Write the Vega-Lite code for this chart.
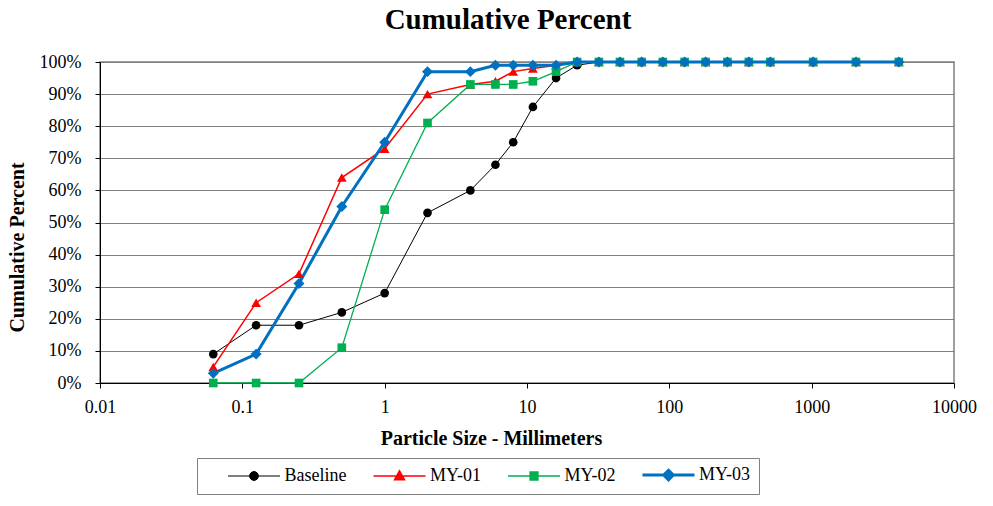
{
  "$schema": "https://vega.github.io/schema/vega-lite/v6.json",
  "width": 854,
  "height": 321,
  "autosize": {"type": "none"},
  "padding": {"left": 100, "top": 62, "right": 39, "bottom": 123},
  "background": "white",
  "config": {
    "font": "Liberation Serif",
    "view": {"stroke": "#808080", "strokeWidth": 1.5},
    "axis": {"labelFont": "Liberation Serif", "titleFont": "Liberation Serif", "labelColor": "#000000", "titleColor": "#000000"},
    "legend": {"symbolOpacity": 1}
  },
  "title": {
    "text": "Cumulative Percent",
    "font": "Liberation Serif",
    "fontSize": 29,
    "fontWeight": "bold",
    "color": "#000000",
    "anchor": "middle",
    "frame": "group",
    "dx": -19,
    "baseline": "alphabetic",
    "offset": -5
  },
  "data": {
    "values": [
      {"series": "Baseline", "size": 0.0625, "pct": 9},
      {"series": "Baseline", "size": 0.125, "pct": 18},
      {"series": "Baseline", "size": 0.25, "pct": 18},
      {"series": "Baseline", "size": 0.5, "pct": 22},
      {"series": "Baseline", "size": 1, "pct": 28},
      {"series": "Baseline", "size": 2, "pct": 53},
      {"series": "Baseline", "size": 4, "pct": 60},
      {"series": "Baseline", "size": 6, "pct": 68},
      {"series": "Baseline", "size": 8, "pct": 75},
      {"series": "Baseline", "size": 11, "pct": 86},
      {"series": "Baseline", "size": 16, "pct": 95},
      {"series": "Baseline", "size": 22.5, "pct": 99},
      {"series": "Baseline", "size": 32, "pct": 100},
      {"series": "Baseline", "size": 45, "pct": 100},
      {"series": "Baseline", "size": 64, "pct": 100},
      {"series": "Baseline", "size": 90, "pct": 100},
      {"series": "Baseline", "size": 128, "pct": 100},
      {"series": "Baseline", "size": 180, "pct": 100},
      {"series": "Baseline", "size": 256, "pct": 100},
      {"series": "Baseline", "size": 362, "pct": 100},
      {"series": "Baseline", "size": 512, "pct": 100},
      {"series": "Baseline", "size": 1024, "pct": 100},
      {"series": "Baseline", "size": 2048, "pct": 100},
      {"series": "Baseline", "size": 4096, "pct": 100},
      {"series": "MY-01", "size": 0.0625, "pct": 5},
      {"series": "MY-01", "size": 0.125, "pct": 25},
      {"series": "MY-01", "size": 0.25, "pct": 34},
      {"series": "MY-01", "size": 0.5, "pct": 64},
      {"series": "MY-01", "size": 1, "pct": 73},
      {"series": "MY-01", "size": 2, "pct": 90},
      {"series": "MY-01", "size": 4, "pct": 93},
      {"series": "MY-01", "size": 6, "pct": 94},
      {"series": "MY-01", "size": 8, "pct": 97},
      {"series": "MY-01", "size": 11, "pct": 98},
      {"series": "MY-01", "size": 16, "pct": 99},
      {"series": "MY-01", "size": 22.5, "pct": 100},
      {"series": "MY-01", "size": 32, "pct": 100},
      {"series": "MY-01", "size": 45, "pct": 100},
      {"series": "MY-01", "size": 64, "pct": 100},
      {"series": "MY-01", "size": 90, "pct": 100},
      {"series": "MY-01", "size": 128, "pct": 100},
      {"series": "MY-01", "size": 180, "pct": 100},
      {"series": "MY-01", "size": 256, "pct": 100},
      {"series": "MY-01", "size": 362, "pct": 100},
      {"series": "MY-01", "size": 512, "pct": 100},
      {"series": "MY-01", "size": 1024, "pct": 100},
      {"series": "MY-01", "size": 2048, "pct": 100},
      {"series": "MY-01", "size": 4096, "pct": 100},
      {"series": "MY-02", "size": 0.0625, "pct": 0},
      {"series": "MY-02", "size": 0.125, "pct": 0},
      {"series": "MY-02", "size": 0.25, "pct": 0},
      {"series": "MY-02", "size": 0.5, "pct": 11},
      {"series": "MY-02", "size": 1, "pct": 54},
      {"series": "MY-02", "size": 2, "pct": 81},
      {"series": "MY-02", "size": 4, "pct": 93},
      {"series": "MY-02", "size": 6, "pct": 93},
      {"series": "MY-02", "size": 8, "pct": 93},
      {"series": "MY-02", "size": 11, "pct": 94},
      {"series": "MY-02", "size": 16, "pct": 97},
      {"series": "MY-02", "size": 22.5, "pct": 100},
      {"series": "MY-02", "size": 32, "pct": 100},
      {"series": "MY-02", "size": 45, "pct": 100},
      {"series": "MY-02", "size": 64, "pct": 100},
      {"series": "MY-02", "size": 90, "pct": 100},
      {"series": "MY-02", "size": 128, "pct": 100},
      {"series": "MY-02", "size": 180, "pct": 100},
      {"series": "MY-02", "size": 256, "pct": 100},
      {"series": "MY-02", "size": 362, "pct": 100},
      {"series": "MY-02", "size": 512, "pct": 100},
      {"series": "MY-02", "size": 1024, "pct": 100},
      {"series": "MY-02", "size": 2048, "pct": 100},
      {"series": "MY-02", "size": 4096, "pct": 100},
      {"series": "MY-03", "size": 0.0625, "pct": 3},
      {"series": "MY-03", "size": 0.125, "pct": 9},
      {"series": "MY-03", "size": 0.25, "pct": 31},
      {"series": "MY-03", "size": 0.5, "pct": 55},
      {"series": "MY-03", "size": 1, "pct": 75},
      {"series": "MY-03", "size": 2, "pct": 97},
      {"series": "MY-03", "size": 4, "pct": 97},
      {"series": "MY-03", "size": 6, "pct": 99},
      {"series": "MY-03", "size": 8, "pct": 99},
      {"series": "MY-03", "size": 11, "pct": 99},
      {"series": "MY-03", "size": 16, "pct": 99},
      {"series": "MY-03", "size": 22.5, "pct": 100},
      {"series": "MY-03", "size": 32, "pct": 100},
      {"series": "MY-03", "size": 45, "pct": 100},
      {"series": "MY-03", "size": 64, "pct": 100},
      {"series": "MY-03", "size": 90, "pct": 100},
      {"series": "MY-03", "size": 128, "pct": 100},
      {"series": "MY-03", "size": 180, "pct": 100},
      {"series": "MY-03", "size": 256, "pct": 100},
      {"series": "MY-03", "size": 362, "pct": 100},
      {"series": "MY-03", "size": 512, "pct": 100},
      {"series": "MY-03", "size": 1024, "pct": 100},
      {"series": "MY-03", "size": 2048, "pct": 100},
      {"series": "MY-03", "size": 4096, "pct": 100}
    ]
  },
  "encoding": {
    "x": {
      "field": "size",
      "type": "quantitative",
      "scale": {"type": "log", "domain": [0.01, 10000], "nice": false},
      "axis": {
        "title": "Particle Size - Millimeters",
        "titleFontSize": 20,
        "titleFontWeight": "bold",
        "titleX": 391,
        "titleY": 61,
        "titleBaseline": "alphabetic",
        "titleAlign": "center",
        "values": [0.01, 0.1, 1, 10, 100, 1000, 10000],
        "format": "~g",
        "labelFontSize": 18,
        "labelPadding": 10,
        "labelFlush": false,
        "labelOverlap": false,
        "tickSize": 5,
        "tickColor": "#000000",
        "domainColor": "#000000",
        "domainWidth": 1,
        "grid": false
      }
    },
    "y": {
      "field": "pct",
      "type": "quantitative",
      "scale": {"domain": [0, 100], "nice": false},
      "axis": {
        "title": "Cumulative Percent",
        "titleFontSize": 20,
        "titleFontWeight": "bold",
        "titleAngle": -90,
        "titleX": -77,
        "titleY": 185,
        "titleBaseline": "alphabetic",
        "titleAlign": "center",
        "values": [0, 10, 20, 30, 40, 50, 60, 70, 80, 90, 100],
        "labelExpr": "datum.value + '%'",
        "labelFontSize": 18,
        "labelPadding": 14,
        "labelFlush": false,
        "labelOverlap": false,
        "tickSize": 5,
        "tickColor": "#000000",
        "domainColor": "#000000",
        "domainWidth": 1,
        "grid": true,
        "gridColor": "#808080",
        "gridWidth": 1
      }
    },
    "color": {
      "field": "series",
      "type": "nominal",
      "scale": {"domain": ["Baseline", "MY-01", "MY-02", "MY-03"], "range": ["#000000", "#FF0000", "#00B050", "#0070C0"]},
      "legend": {
        "title": null,
        "orient": "none",
        "legendX": 97,
        "legendY": 396,
        "direction": "horizontal",
        "labelFont": "Liberation Serif",
        "labelFontSize": 18,
        "labelColor": "#000000",
        "strokeColor": "#808080",
        "padding": 8,
        "columnPadding": 3.5,
        "labelOffset": 61.5,
        "symbolSize": 64,
        "symbolOpacity": 1
      }
    }
  },
  "layer": [
    {
      "mark": {"type": "line", "interpolate": "linear"},
      "encoding": {
        "strokeWidth": {
          "field": "series",
          "type": "nominal",
          "scale": {"type": "ordinal", "domain": ["Baseline", "MY-01", "MY-02", "MY-03"], "range": [1, 1.5, 1.3, 3]}
        }
      }
    },
    {
      "transform": [{"filter": "datum.series === 'Baseline'"}],
      "mark": {"type": "point", "filled": true, "opacity": 1, "shape": "circle", "size": 75}
    },
    {
      "transform": [{"filter": "datum.series === 'MY-01'"}],
      "mark": {"type": "point", "filled": true, "opacity": 1, "shape": "triangle-up", "size": 95}
    },
    {
      "transform": [{"filter": "datum.series === 'MY-02'"}],
      "mark": {"type": "point", "filled": true, "opacity": 1, "shape": "square", "size": 75}
    },
    {
      "transform": [{"filter": "datum.series === 'MY-03'"}],
      "mark": {"type": "point", "filled": true, "opacity": 1, "shape": "diamond", "size": 120}
    },
    {
      "transform": [{"filter": "datum.pct < 0"}],
      "mark": {"type": "point", "filled": true, "opacity": 1},
      "encoding": {
        "shape": {
          "field": "series",
          "type": "nominal",
          "scale": {
            "domain": ["Baseline", "MY-01", "MY-02", "MY-03"],
            "range": [
              "M3.5,0H16.5M8.9,0A1.1,1.1 0 1,0 11.1,0A1.1,1.1 0 1,0 8.9,0Z",
              "M3.5,0H16.5M10,-1.3L11.25,0.95L8.75,0.95Z",
              "M3.5,0H16.5M9,-1H11V1H9Z",
              "M3.5,0H16.5M10,-1.2L11.2,0L10,1.2L8.8,0Z"
            ]
          }
        },
        "stroke": {
          "field": "series",
          "type": "nominal",
          "scale": {"domain": ["Baseline", "MY-01", "MY-02", "MY-03"], "range": ["#000000", "#FF0000", "#00B050", "#0070C0"]}
        },
        "strokeWidth": {
          "field": "series",
          "type": "nominal",
          "scale": {"type": "ordinal", "domain": ["Baseline", "MY-01", "MY-02", "MY-03"], "range": [1, 1.5, 1.3, 3]}
        }
      }
    }
  ]
}
